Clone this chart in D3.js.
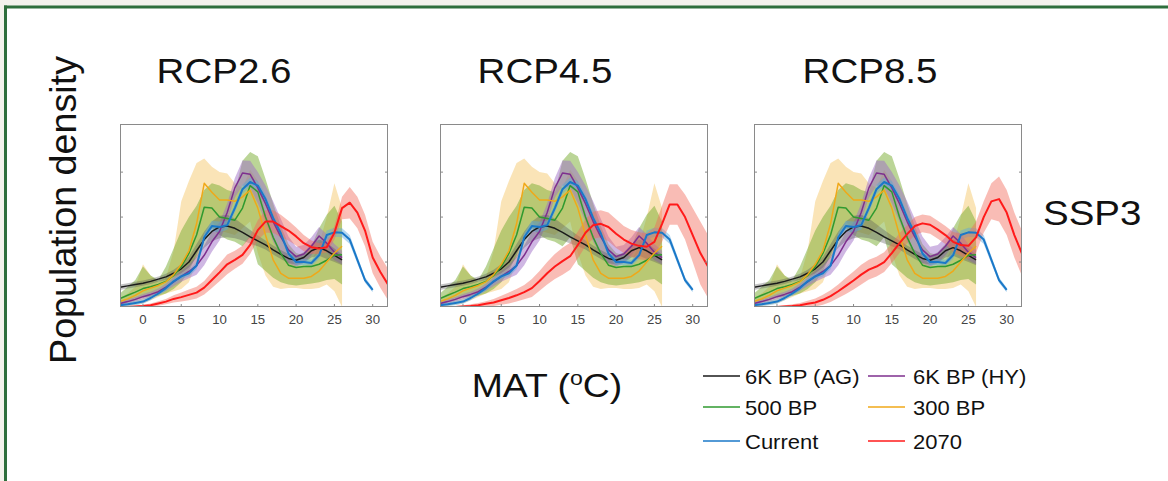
<!DOCTYPE html>
<html>
<head>
<meta charset="utf-8">
<script src="https://cdn.jsdelivr.net/npm/d3@7"></script>
<style>
  body { margin: 0; background: #fff; }
  svg text { font-family: "Liberation Sans", Arial, sans-serif; fill: #111; }
</style>
</head>
<body>
<svg id="chart" width="1168" height="481"></svg>
<script>

// temperature grids (MAT, degC)
const histTemps = [-3,-2,-1,0,1,2,3,4,5,6,7,8,9,10,11,12,13,14,15,16,17,18,19,20,21,22,23,24,25,26]
const currentTemps = [-3,-2,-1,0,1,2,3,4,5,6,7,8,9,10,11,12,13,14,15,16,17,18,19,20,21,22,23,24,25,26,27,28,29,30]
const futureTemps = [-3,-2,-1,0,1,2,3,4,5,6,7,8,9,10,11,12,13,14,15,16,17,18,19,20,21,22,23,24,25,26,27,28,29,30,31,32]

const panelTitles = ["RCP2.6", "RCP4.5", "RCP8.5"]
const xTicks = [0, 5, 10, 15, 20, 25, 30]
const yTicks = [1, 2, 3]

// 6K BP (AG)
const agMean = [.44,.47,.5,.53,.57,.62,.67,.75,.85,1.0,1.25,1.5,1.68,1.78,1.8,1.75,1.66,1.56,1.47,1.38,1.27,1.17,1.08,1.04,1.1,1.25,1.32,1.25,1.15,1.05]
const agSpread = [.06,.06,.06,.06,.06,.06,.07,.08,.1,.12,.15,.18,.22,.25,.25,.22,.18,.15,.12,.1,.1,.1,.1,.1,.12,.15,.18,.18,.15,.12]

// 6K BP (HY)
const hyMean = [.08,.12,.17,.23,.28,.34,.44,.56,.68,.79,.92,1.15,1.45,1.68,2.1,2.65,2.98,2.95,2.65,2.3,1.9,1.56,1.27,1.12,1.18,1.35,1.58,1.42,1.22,1.1]
const hySpread = [.05,.05,.05,.06,.06,.07,.08,.1,.12,.15,.2,.22,.22,.2,.2,.22,.28,.3,.35,.4,.45,.4,.3,.22,.2,.2,.2,.2,.18,.15]

// 500 BP
const bp500Mean = [.19,.26,.33,.41,.45,.5,.57,.7,.9,1.19,1.6,2.22,2.2,2.0,1.97,1.93,2.2,2.7,2.56,2.0,1.55,1.19,.93,.88,.9,.9,.95,1.04,1.15,1.16]
const bp500Low = [.05,.1,.15,.22,.23,.25,.3,.4,.55,.8,1.15,1.6,1.75,1.6,1.5,1.45,1.35,1.55,.95,.8,.65,.55,.5,.48,.5,.52,.55,.6,.62,.5]
const bp500High = [.3,.45,.6,.9,.7,.6,.9,1.3,1.7,2.0,2.25,2.6,2.75,2.7,2.6,2.55,3.25,3.45,3.35,2.85,2.3,1.8,1.4,1.2,1.15,1.35,1.75,2.05,2.25,1.9]

// 300 BP
const bp300Mean = [.12,.18,.26,.36,.42,.48,.56,.72,.95,1.25,1.85,2.75,2.55,2.38,2.38,2.35,2.45,2.6,2.2,1.6,1.05,.75,.64,.64,.64,.68,.8,1.0,1.2,1.35]
const bp300Low = [0,.02,.05,.08,.15,.22,.3,.35,.4,.55,1.0,1.6,1.9,1.7,1.65,1.6,1.75,1.9,1.2,.7,.45,.4,.42,.42,.4,.4,.42,.5,.35,0]
const bp300High = [.2,.3,.45,.95,.7,.55,.65,1.25,2.35,2.8,3.2,3.3,3.12,3.0,2.97,2.75,2.65,3.05,2.8,2.1,1.6,1.2,1.0,.92,.9,1.0,1.4,2.0,2.75,2.2]

// Current
const currentMean = [.04,.06,.09,.12,.2,.3,.42,.57,.68,.75,.92,1.55,1.8,1.78,1.82,2.2,2.62,2.78,2.7,2.4,1.98,1.64,1.19,1.0,1.0,.98,1.15,1.6,1.66,1.65,1.5,1.05,.6,.38]
const currentSpread = [.04,.04,.05,.05,.05,.05,.06,.06,.06,.07,.08,.1,.12,.12,.1,.1,.1,.1,.1,.1,.1,.1,.08,.07,.07,.07,.08,.1,.1,.1,.1,.08,.06,.05]

// 2070, one per RCP panel
const fut26Mean = [0,0,.01,.02,.04,.08,.12,.18,.22,.27,.32,.43,.6,.77,.95,1.05,1.16,1.38,1.71,1.9,1.9,1.8,1.7,1.57,1.42,1.33,1.3,1.33,1.65,2.2,2.32,2.1,1.7,1.1,.78,.5]
const fut26Spread = [.01,.01,.02,.03,.04,.05,.06,.08,.1,.12,.13,.15,.18,.2,.22,.2,.2,.2,.22,.25,.25,.25,.22,.2,.18,.15,.12,.12,.15,.25,.35,.35,.35,.35,.35,.35]
const fut45Mean = [0,0,0,.01,.02,.04,.07,.1,.15,.2,.26,.33,.42,.58,.75,.9,1.02,1.13,1.38,1.65,1.82,1.85,1.78,1.63,1.5,1.41,1.36,1.34,1.45,1.85,2.28,2.28,2.0,1.6,1.2,.9]
const fut45Spread = [.01,.01,.02,.03,.04,.05,.06,.08,.1,.12,.14,.16,.2,.22,.25,.28,.3,.3,.3,.3,.3,.3,.32,.32,.3,.3,.3,.3,.32,.4,.45,.45,.5,.6,.7,.7]
const fut85Mean = [0,0,0,0,.01,.02,.04,.07,.1,.16,.24,.35,.47,.59,.72,.83,.9,1.0,1.2,1.42,1.62,1.8,1.86,1.83,1.72,1.6,1.45,1.38,1.36,1.55,2.0,2.35,2.4,2.1,1.6,1.19]
const fut85Spread = [.01,.01,.01,.02,.03,.04,.05,.07,.09,.11,.13,.15,.18,.2,.22,.22,.22,.22,.22,.22,.2,.2,.2,.2,.2,.2,.22,.25,.3,.35,.35,.4,.5,.5,.5,.5]

const futureMeans = [fut26Mean, fut45Mean, fut85Mean]
const futureSpreads = [fut26Spread, fut45Spread, fut85Spread]

const legendItems = [
  { label: "6K BP (AG)", color: "#1a1a1a" },
  { label: "6K BP (HY)", color: "#7e2f8e" },
  { label: "500 BP", color: "#2f9a2f" },
  { label: "300 BP", color: "#f0a818" },
  { label: "Current", color: "#1a78c8" },
  { label: "2070", color: "#ff1a1a" }
]

// ---- layout ----
const panelLeft = [120, 440, 754]
const titleCenter = [224, 545, 870]
const panelW = 268
const panelTop = 124
const panelH = 183
const stretch = 1.1

const svg = d3.select("#chart")

// page frame
svg.append("rect").attr("x", 0).attr("y", 0).attr("width", 1060).attr("height", 6).attr("fill", "#f3f2ec")
svg.append("rect").attr("x", 0).attr("y", 0).attr("width", 4).attr("height", 481).attr("fill", "#f3f2ec")
svg.append("rect").attr("x", 4).attr("y", 5.5).attr("width", 1164).attr("height", 3).attr("fill", "#2e6e3c")
svg.append("rect").attr("x", 4).attr("y", 5.5).attr("width", 3).attr("height", 476).attr("fill", "#2e6e3c")

function hText(x, y, str, size, anchor) {
  return svg.append("text")
    .attr("transform", `translate(${x},${y}) scale(${stretch},1)`)
    .attr("text-anchor", anchor || "start")
    .style("font-size", size + "px")
    .text(str)
}

function bandFrom(temps, mean, spread) {
  return temps.map((t, i) => ({ t: t, lo: Math.max(0, mean[i] - spread[i]), hi: mean[i] + spread[i] }))
}

function bandLoHi(temps, lo, hi) {
  return temps.map((t, i) => ({ t: t, lo: lo[i], hi: hi[i] }))
}

function points(temps, mean) {
  return temps.map((t, i) => ({ t: t, v: mean[i] }))
}

function drawPanel(p) {

  const x = d3.scaleLinear().domain([-3, 32]).range([panelLeft[p], panelLeft[p] + panelW])
  const y = d3.scaleLinear().domain([0, 4.07]).range([panelTop + panelH, panelTop])

  const clipId = "clip" + p
  svg.append("clipPath").attr("id", clipId)
    .append("rect")
    .attr("x", panelLeft[p]).attr("y", panelTop)
    .attr("width", panelW).attr("height", panelH)

  const features = svg.append("g").attr("clip-path", `url(#${clipId})`)

  const area = d3.area().x(d => x(d.t)).y0(d => y(d.lo)).y1(d => y(d.hi))
  const line = d3.line().x(d => x(d.t)).y(d => y(d.v))

  const bands = [
    { data: bandLoHi(histTemps, bp300Low, bp300High), fill: "#f5c460", op: 0.45 },
    { data: bandLoHi(histTemps, bp500Low, bp500High), fill: "#77ac30", op: 0.5 },
    { data: bandFrom(histTemps, hyMean, hySpread), fill: "#a070c8", op: 0.5 },
    { data: bandFrom(histTemps, agMean, agSpread), fill: "#555555", op: 0.35 },
    { data: bandFrom(currentTemps, currentMean, currentSpread), fill: "#5aa8e0", op: 0.45 },
    { data: bandFrom(futureTemps, futureMeans[p], futureSpreads[p]), fill: "#f26a5a", op: 0.45 }
  ]

  bands.forEach((b) => {
    features.append("path")
      .attr("d", area(b.data))
      .attr("fill", b.fill)
      .attr("fill-opacity", b.op)
  })

  const lines = [
    { data: points(histTemps, agMean), color: legendItems[0].color, w: 1.5 },
    { data: points(histTemps, hyMean), color: legendItems[1].color, w: 1.5 },
    { data: points(histTemps, bp500Mean), color: legendItems[2].color, w: 1.5 },
    { data: points(histTemps, bp300Mean), color: legendItems[3].color, w: 1.5 },
    { data: points(currentTemps, currentMean), color: legendItems[4].color, w: 2 },
    { data: points(futureTemps, futureMeans[p]), color: legendItems[5].color, w: 2 }
  ]

  lines.forEach((l) => {
    features.append("path")
      .attr("d", line(l.data))
      .attr("fill", "none")
      .attr("stroke", l.color)
      .attr("stroke-width", l.w)
      .attr("stroke-linejoin", "round")
  })

  // axes box + inward ticks
  const axes = svg.append("g")

  axes.append("rect")
    .attr("x", panelLeft[p] + 0.5).attr("y", panelTop + 0.5)
    .attr("width", panelW - 1).attr("height", panelH - 1)
    .attr("fill", "none").attr("stroke", "#8a8a8a").attr("stroke-width", 1)

  yTicks.forEach((v) => {
    axes.append("line")
      .attr("x1", panelLeft[p]).attr("x2", panelLeft[p] + 3)
      .attr("y1", y(v)).attr("y2", y(v))
      .attr("stroke", "#8a8a8a")
    axes.append("line")
      .attr("x1", panelLeft[p] + panelW - 3).attr("x2", panelLeft[p] + panelW)
      .attr("y1", y(v)).attr("y2", y(v))
      .attr("stroke", "#8a8a8a")
  })

  xTicks.forEach((t) => {
    axes.append("line")
      .attr("x1", x(t)).attr("x2", x(t))
      .attr("y1", panelTop + panelH).attr("y2", panelTop + panelH - 3)
      .attr("stroke", "#8a8a8a")
    hText(x(t), panelTop + panelH + 17, t, 12, "middle").style("fill", "#444")
  })

  hText(titleCenter[p], 83, panelTitles[p], 35, "middle")
}

[0, 1, 2].forEach(drawPanel)

// axis titles
svg.append("text")
  .attr("transform", "translate(76,210) rotate(-90)")
  .attr("text-anchor", "middle")
  .attr("textLength", 308)
  .attr("lengthAdjust", "spacingAndGlyphs")
  .style("font-size", "36px")
  .text("Population density")

const mat = hText(547, 397, "MAT (", 34, "middle")
mat.append("tspan").attr("dy", -12).style("font-size", "21px").text("o")
mat.append("tspan").attr("dy", 12).text("C)")

hText(1043, 225, "SSP3", 35, "start")

// legend
const legendCols = [703, 868]
const legendRows = [376, 407, 441]

legendItems.forEach((item, i) => {
  const lx = legendCols[i % 2]
  const ly = legendRows[Math.floor(i / 2)]

  svg.append("line")
    .attr("x1", lx).attr("x2", lx + 37)
    .attr("y1", ly).attr("y2", ly)
    .attr("stroke", item.color)
    .attr("stroke-width", 1.5)

  hText(lx + (i % 2 ? 45 : 42), ly + 7.5, item.label, 20, "start")
})

</script>
</body>
</html>
